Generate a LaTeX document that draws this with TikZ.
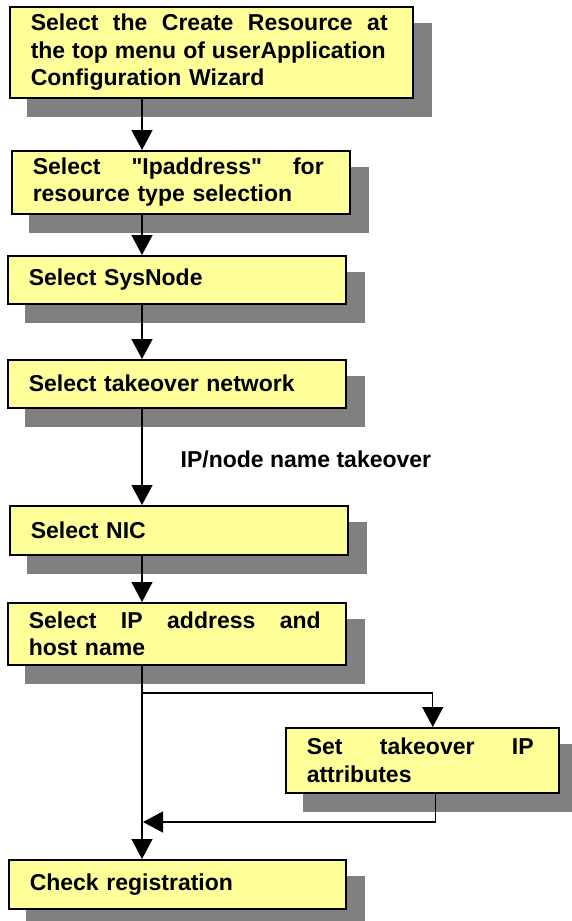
\documentclass[tikz,border=0pt]{standalone}
\usepackage{fontspec}
\setmainfont{Liberation Sans}
\newfontfamily\plainqfont{Liberation Sans}
\usetikzlibrary{arrows.meta,calc,backgrounds}
\definecolor{boxyellow}{HTML}{FFFF99}
\definecolor{shadowgray}{HTML}{808080}
\newcommand{\dq}{{\plainqfont\symbol{34}}}
\tikzset{
  stepbox/.style={draw=black, line width=1.5pt, fill=boxyellow, rectangle,
    inner xsep=21pt, inner ysep=0pt, anchor=north west, align=left,
    font=\bfseries\fontsize{23pt}{27.5pt}\selectfont},
  arr/.style={line width=1.3pt, -{Triangle[length=20pt,width=21pt]}},
  lbl/.style={font=\bfseries\fontsize{23pt}{27.5pt}\selectfont, inner sep=0pt}
}
\begin{document}
\begin{tikzpicture}[x=1pt,y=-1pt]
\useasboundingbox (0,0) rectangle (571,921);
% boxes
\node[stepbox, text width=361pt, minimum height=91pt] (b1) at (9,6)
  {\makebox[357pt][l]{Select\hfill the\hfill Create\hfill Resource\hfill at}\\
   \makebox[355pt][l]{the\hfill top\hfill menu\hfill of\hfill userApplication}\\
   Configuration Wizard};
\node[stepbox, text width=296pt, minimum height=63pt] (b2) at (11,150)
  {\makebox[291pt][l]{Select\hfill \dq Ipaddress\dq\hfill for}\\resource type selection};
\node[stepbox, text width=296pt, minimum height=48pt] (b3) at (7,255)
  {Select SysNode};
\node[stepbox, text width=296pt, minimum height=48pt] (b4) at (7,359)
  {Select takeover network};
\node[stepbox, text width=296pt, minimum height=49pt] (b5) at (9,505)
  {Select NIC};
\node[stepbox, text width=296pt, minimum height=62pt] (b6) at (7,602)
  {\makebox[292pt][l]{Select\hfill IP\hfill address\hfill and}\\host name};
\node[stepbox, text width=231pt, minimum height=65pt] (b7) at (285,727)
  {\makebox[227pt][l]{Set\hfill takeover\hfill IP}\\attributes};
\node[stepbox, text width=295pt, minimum height=49pt] (b8) at (8,859)
  {Check registration};
% shadows
\begin{scope}[on background layer]
  \foreach \b in {b1,b2,b3,b4,b5,b6,b7,b8}
    \fill[shadowgray] ($(\b.north west)+(18,17)$) rectangle ($(\b.south east)+(18,18)$);
\end{scope}
% connectors
\coordinate (sp) at (142,0);
\coordinate (br) at (142,693);
\coordinate (rj) at (143,822);
\draw[arr] (b1.south -| sp) -- (b2.north -| sp);
\draw[arr] (b2.south -| sp) -- (b3.north -| sp);
\draw[arr] (b3.south -| sp) -- (b4.north -| sp);
\draw[arr] (b4.south -| sp) -- node[lbl, anchor=base west, xshift=38pt, yshift=-11pt] (tl) {IP/node name takeover} (b5.north -| sp);
\draw[arr] (b5.south -| sp) -- (b6.north -| sp);
\draw[arr] (b6.south -| sp) -- (b8.north -| sp);
\draw[arr] (br) -| ($(b7.north)+(10.5,0)$);
\draw[arr] ($(b7.south)+(13.5,0)$) |- (rj);
\end{tikzpicture}
\end{document}
